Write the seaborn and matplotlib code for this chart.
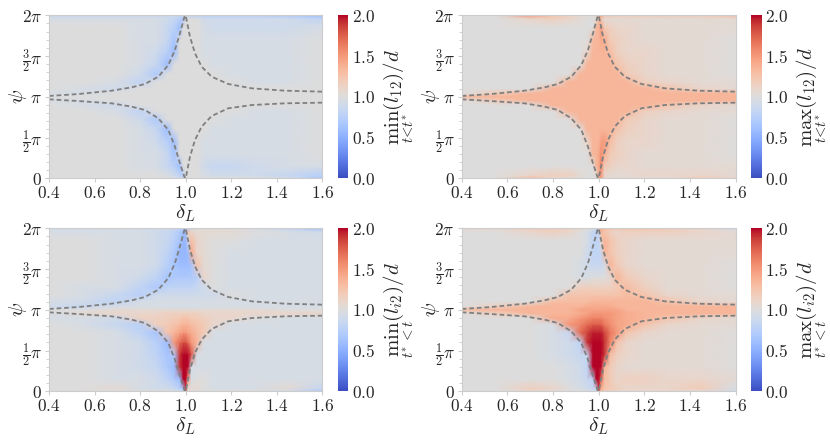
import numpy as np
import matplotlib
matplotlib.use("Agg")
import matplotlib.pyplot as plt
from matplotlib.ticker import MultipleLocator
import seaborn as sns

sns.set_theme(style="white")
plt.rcParams['font.family'] = ['DejaVu Serif']
plt.rcParams['mathtext.fontset'] = 'cm'

# ---------------- data ----------------
# grid nodes: delta_L (x) and psi in units of pi (y, listed top -> bottom)
delta_nodes = [0.40, 0.55, 0.70, 0.80, 0.87, 0.92, 0.95, 0.975, 0.99, 1.00,
               1.01, 1.025, 1.05, 1.08, 1.12, 1.20, 1.30, 1.45, 1.60]
psi_nodes = [2.0, 1.96, 1.85, 1.7, 1.55, 1.4, 1.28, 1.18, 1.1, 1.04, 1.0,
             0.96, 0.9, 0.82, 0.72, 0.6, 0.45, 0.3, 0.15, 0.04, 0.0]

# values, in units of 1/20 (20 -> 1.0)
min_l12 = [
    "17 17 17 17 17 17 17 17 18 20 16 15 15 15 15 15 15 14 12",
    "19 19 19 19 19 18 17 15 13 20 20 20 20 18 18 18 18 18 16",
    "20 20 20 19 19 17 15 12 20 20 20 20 20 19 18 18 18 18 19",
    "20 20 20 19 19 17 13 20 20 20 20 20 20 19 19 19 19 19 20",
    "20 20 20 19 18 15 12 20 20 20 20 20 20 19 19 19 19 19 20",
    "20 20 20 19 17 12 20 20 20 20 20 20 20 20 19 19 19 19 20",
    "20 20 20 18 14 20 20 20 20 20 20 20 20 20 20 19 19 19 20",
    "20 20 19 16 20 20 20 20 20 20 20 20 20 20 20 20 19 19 20",
    "20 19 18 20 20 20 20 20 20 20 20 20 20 20 20 20 20 20 20",
    "19 19 20 20 20 20 20 20 20 20 20 20 20 20 20 20 20 20 20",
    "20 20 20 20 20 20 20 20 20 20 20 20 20 20 20 20 20 20 20",
    "19 19 20 20 20 20 20 20 20 20 20 20 20 20 20 20 20 20 20",
    "20 19 18 20 20 20 20 20 20 20 20 20 20 20 20 20 20 20 20",
    "20 20 19 16 20 20 20 20 20 20 20 20 20 20 20 20 19 19 20",
    "20 20 20 18 14 20 20 20 20 20 20 20 20 20 20 19 19 19 20",
    "20 20 20 19 17 12 20 20 20 20 20 20 20 20 19 19 19 19 20",
    "20 20 20 19 18 15 12 20 20 20 20 20 20 19 19 19 19 19 20",
    "20 20 20 19 19 17 13 20 20 20 20 20 20 19 19 19 19 19 20",
    "20 20 20 19 19 17 15 12 20 20 20 20 20 18 17 17 18 19 19",
    "20 20 20 20 20 19 18 16 14 20 20 20 20 19 18 18 18 17 15",
    "20 20 20 20 20 20 19 18 17 20 20 20 20 20 20 20 20 18 14",
]
max_l12 = [
    "20 20 30 25 23 21 21 21 22 30 30 25 24 24 24 24 24 24 26",
    "20 20 22 23 22 21 20 20 20 27 24 21 21 21 21 21 21 21 21",
    "20 20 20 20 20 20 20 20 27 27 30 24 23 22 22 21 21 21 21",
    "20 20 20 20 20 20 20 26 27 27 28 28 24 23 22 21 21 21 20",
    "20 20 20 20 20 20 22 27 27 27 27 27 26 23 22 22 21 21 20",
    "20 20 20 20 20 20 27 27 27 27 27 27 27 25 23 22 21 21 20",
    "20 20 20 20 20 27 27 27 27 27 27 27 27 27 24 22 21 21 20",
    "20 20 20 20 27 27 27 27 27 27 27 27 27 27 27 23 22 21 21",
    "20 20 20 27 27 27 27 27 27 27 27 27 27 27 27 27 25 22 21",
    "20 24 27 27 27 27 27 27 27 27 27 27 27 27 27 27 27 27 27",
    "26 27 27 27 27 27 27 27 27 27 27 27 27 27 27 27 27 27 27",
    "20 24 27 27 27 27 27 27 27 27 27 27 27 27 27 27 27 27 27",
    "20 20 20 27 27 27 27 27 27 27 27 27 27 27 27 27 25 22 21",
    "20 20 20 20 27 27 27 27 27 27 27 27 27 27 27 23 22 21 21",
    "20 20 20 20 20 27 27 27 27 27 27 27 27 27 24 22 21 21 20",
    "20 20 20 20 20 20 27 27 27 27 27 27 27 25 23 22 21 21 20",
    "20 20 20 20 20 20 22 27 27 27 29 30 26 23 22 22 21 21 20",
    "20 20 20 20 20 20 20 27 27 28 31 28 24 23 22 21 21 21 20",
    "20 20 20 20 20 20 20 20 27 28 32 24 23 22 22 21 21 21 21",
    "20 20 22 23 23 21 20 20 20 28 30 22 21 21 21 22 22 22 21",
    "20 20 26 22 21 20 20 20 21 30 30 22 21 21 21 21 21 24 22",
]
min_li2 = [
    "18 18 19 18 18 18 17 16 14 12 14 18 21 21 21 20 19 16 12",
    "19 19 19 19 18 17 16 14 12 12 25 22 21 21 21 21 20 19 18",
    "20 20 19 19 18 17 15 13 11 11 18 26 22 21 20 20 19 19 19",
    "20 20 19 19 18 16 14 11 11 11 12 28 22 21 20 19 19 19 19",
    "20 20 19 19 18 15 13 12 12 12 12 13 25 21 20 19 19 19 19",
    "20 20 19 18 16 13 14 14 14 14 14 14 15 22 20 19 19 19 19",
    "20 19 19 16 14 16 16 16 16 16 16 16 17 18 20 19 19 19 19",
    "20 19 17 15 18 18 18 18 18 18 18 18 18 18 18 20 19 19 19",
    "19 18 16 19 19 19 19 19 19 19 19 19 19 19 19 19 19 19 19",
    "18 17 19 19 19 19 19 19 19 19 19 19 19 19 19 19 19 19 19",
    "20 20 21 21 21 21 21 21 21 21 21 21 21 21 21 21 21 20 20",
    "19 21 22 22 22 23 23 23 23 23 23 23 23 22 22 22 22 22 22",
    "19 19 18 23 23 23 24 24 25 25 25 24 24 23 22 22 20 19 19",
    "20 19 17 15 23 24 25 26 27 27 27 26 25 24 22 19 19 19 19",
    "20 20 19 16 13 25 27 29 30 30 29 28 26 24 19 19 19 19 19",
    "20 20 19 18 15 12 30 34 36 36 34 30 27 19 19 19 19 19 19",
    "20 20 19 18 16 13 14 38 40 40 40 36 19 19 19 19 19 19 19",
    "20 20 19 18 17 14 12 38 40 40 40 19 19 19 19 19 19 19 19",
    "20 20 19 19 18 16 14 12 40 40 30 19 20 20 19 19 19 19 19",
    "20 20 21 19 18 18 17 15 13 38 20 21 21 20 19 19 19 21 17",
    "20 20 20 20 20 20 19 18 16 36 22 21 20 20 20 20 20 18 14",
]
max_li2 = [
    "22 22 24 24 23 22 21 19 17 24 28 26 25 25 25 25 24 22 18",
    "20 20 22 23 22 20 19 17 16 16 27 25 23 22 23 23 23 22 21",
    "20 20 20 20 20 20 19 16 16 16 22 27 25 23 22 21 21 21 21",
    "20 20 20 20 20 20 18 16 16 16 17 27 25 23 22 21 21 21 21",
    "20 20 20 20 20 19 18 17 17 17 17 18 27 24 22 21 21 21 20",
    "20 20 20 20 20 19 19 20 20 20 20 20 21 27 24 22 21 21 20",
    "20 20 20 20 20 23 23 23 23 23 23 23 23 24 26 23 21 21 20",
    "20 20 20 20 25 25 25 25 25 25 25 25 25 25 26 25 22 21 21",
    "20 20 20 26 26 26 26 27 27 27 27 27 27 27 27 27 25 22 21",
    "20 23 27 27 27 27 28 28 28 28 28 28 28 27 27 27 27 27 27",
    "26 27 27 27 27 29 29 29 29 29 29 29 29 29 27 27 27 27 27",
    "20 23 27 27 27 28 29 30 30 30 30 30 30 29 28 27 27 27 27",
    "20 20 20 28 28 30 31 32 32 32 32 31 30 29 28 27 25 22 21",
    "20 20 20 19 30 32 34 35 35 35 35 33 31 29 28 25 22 21 21",
    "20 20 20 19 17 34 37 39 39 39 39 37 33 30 25 22 21 21 20",
    "20 20 20 19 18 16 38 40 40 40 40 38 32 25 22 21 21 21 20",
    "20 20 20 19 18 17 17 40 40 40 40 38 26 23 22 21 21 21 20",
    "20 20 20 20 19 18 16 40 40 40 40 27 24 22 21 21 21 21 20",
    "20 20 20 20 19 18 17 16 40 40 34 26 24 22 23 23 22 22 21",
    "20 20 23 22 20 19 18 17 17 38 28 25 24 23 22 22 22 24 19",
    "20 20 22 21 20 20 19 18 18 36 26 24 23 22 22 22 22 21 18",
]

# dashed boundary curves (psi in units of pi)
curve_delta = [0.400, 0.529, 0.675, 0.763, 0.821, 0.880, 0.924, 0.953, 0.975, 0.994,
               1.000, 1.019, 1.041, 1.070, 1.114, 1.187, 1.290, 1.436, 1.600]
curve_upper = [1.010, 1.034, 1.075, 1.116, 1.157, 1.247, 1.390, 1.574, 1.779, 1.975,
               2.000, 1.737, 1.534, 1.370, 1.247, 1.157, 1.104, 1.075, 1.063]
curve_lower = [0.969, 0.948, 0.920, 0.879, 0.838, 0.736, 0.593, 0.388, 0.184, 0.020,
               0.000, 0.265, 0.470, 0.633, 0.764, 0.859, 0.899, 0.920, 0.928]

x_ticks = [0.4, 0.6, 0.8, 1.0, 1.2, 1.4, 1.6]
y_ticks = [0, 0.5, 1.0, 1.5, 2.0]
y_ticklabels = [r'$0$', r'$\frac{1}{2}\pi$', r'$\pi$', r'$\frac{3}{2}\pi$', r'$2\pi$']
cb_ticks = [0.0, 0.5, 1.0, 1.5, 2.0]

panels = [
    (min_l12, r'$\min_{t<t^*}(l_{12})/d$'),
    (max_l12, r'$\max_{t<t^*}(l_{12})/d$'),
    (min_li2, r'$\min_{t^*<t}(l_{i2})/d$'),
    (max_li2, r'$\max_{t^*<t}(l_{i2})/d$'),
]

# ---------------- layout ----------------
W, H = 830, 443
fig = plt.figure(figsize=(W / 100, H / 100), dpi=100)
ax_lefts = [49, 461.7]
ax_w = [273.3, 274.0]
cb_lefts = [337.7, 751.0]
ax_tops = [15.3, 228.3]
ax_h = 163.0
cb_w = 10.6
ylabel_anchor = [29.0, 442.0]    # anchor of the psi label (px)
cblabel_anchor = [382.0, 795.0]  # anchor of the colorbar label (px)

spine_col = '#cccccc'
X = np.array(delta_nodes)
Y = np.array(psi_nodes)[::-1] * np.pi

for i, (rows, label) in enumerate(panels):
    r, c = divmod(i, 2)
    ax = fig.add_axes([ax_lefts[c] / W, 1 - (ax_tops[r] + ax_h) / H, ax_w[c] / W, ax_h / H])
    cax = fig.add_axes([cb_lefts[c] / W, 1 - (ax_tops[r] + ax_h) / H, cb_w / W, ax_h / H])
    Z = np.array([[int(v) for v in row.split()] for row in rows], dtype=float)[::-1] / 20.0
    mesh = ax.pcolormesh(X, Y, Z, shading='gouraud', cmap='coolwarm', vmin=0, vmax=2,
                         rasterized=True)
    for cy in (curve_upper, curve_lower):
        sns.lineplot(x=curve_delta, y=np.array(cy) * np.pi, ax=ax, sort=False,
                     estimator=None, color='#7f7f7f', lw=1.3,
                     linestyle=(0, (2.6, 1.6)))
    ax.set_xlim(0.4, 1.6)
    ax.set_ylim(0, 2 * np.pi)
    ax.set_xticks(x_ticks)
    ax.set_xticklabels([r'$%.1f$' % v for v in x_ticks])
    ax.set_yticks([v * np.pi for v in y_ticks])
    ax.set_yticklabels(y_ticklabels)
    ax.yaxis.set_minor_locator(MultipleLocator(np.pi / 10))
    ax.tick_params(axis='both', which='major', direction='out', length=3, width=0.8,
                   color=spine_col, labelsize=12.5, pad=2, left=True, bottom=True)
    ax.tick_params(axis='y', which='minor', direction='out', length=2, width=0.6,
                   color=spine_col, left=True)
    for s in ax.spines.values():
        s.set_color(spine_col)
        s.set_linewidth(0.8)
    ax.set_xlabel(r'$\delta_L$', fontsize=15, labelpad=0)
    ax.set_ylabel(r'$\psi$', fontsize=15)
    ax.yaxis.set_label_coords((ylabel_anchor[c] - ax_lefts[c]) / ax_w[c], 0.5)

    cb = fig.colorbar(mesh, cax=cax, ticks=cb_ticks)
    cb.outline.set_visible(False)
    cb.ax.tick_params(length=0, labelsize=12.5, pad=2.5)
    cb.ax.set_yticklabels([r'$%.1f$' % v for v in cb_ticks])
    cb.set_label(label, fontsize=15)
    cax.yaxis.set_label_coords((cblabel_anchor[c] - cb_lefts[c]) / cb_w, 0.5)

fig.savefig('out.png', dpi=100)
